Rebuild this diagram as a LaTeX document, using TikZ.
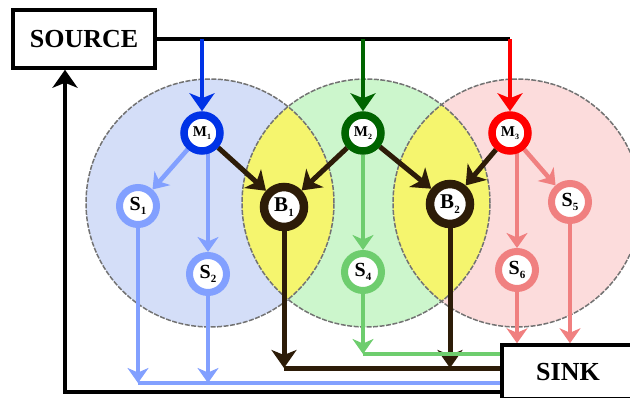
\documentclass[tikz,border=0pt]{standalone}
\usepackage{fontspec}
\setmainfont{Liberation Serif}
\usetikzlibrary{arrows.meta}
\pgfdeclarelayer{back}
\pgfdeclarelayer{mid}
\pgfsetlayers{back,mid,main}
\definecolor{cBlue}{RGB}{0,51,230}
\definecolor{cGreenD}{RGB}{0,100,0}
\definecolor{cRed}{RGB}{255,0,0}
\definecolor{cLBlue}{RGB}{130,160,255}
\definecolor{cLGreen}{RGB}{110,205,110}
\definecolor{cPink}{RGB}{240,128,128}
\definecolor{cBrown}{RGB}{45,28,8}
\definecolor{cBlueFill}{RGB}{212,222,248}
\definecolor{cGreenFill}{RGB}{204,246,204}
\definecolor{cRedFill}{RGB}{252,220,220}
\definecolor{cYellow}{RGB}{245,245,110}
\newcommand\nodelab[4]{{\fontsize{#3}{#3}\selectfont\bfseries #1\raisebox{-0.5ex}{\fontsize{#4}{#4}\selectfont #2}}}
\begin{document}
\begin{tikzpicture}[x=1pt,y=-1pt,
 ring/.style={circle,fill=white,inner sep=0pt},
 mring/.style={ring,minimum size=36pt,line width=7.5pt},
 sring/.style={ring,minimum size=37pt,line width=7pt},
 bring/.style={ring,minimum size=40pt,line width=8.5pt,draw=cBrown},
 tip/.style={-{Stealth[length=18pt,width=25pt,inset=5pt]}},
 smalltip/.style={-{Stealth[length=15pt,width=21pt,inset=4.5pt]}},
 box/.style={draw=black,line width=3.5pt,fill=white,inner sep=0pt,font=\fontsize{26}{26}\selectfont\bfseries},
 bigc/.style={dash pattern=on 5pt off 1.5pt,draw=black!55,line width=1.5pt},
 blk/.style={draw=black,line width=3.5pt},
 lbl/.style={draw=cLBlue,line width=4.5pt},
 lgl/.style={draw=cLGreen,line width=4.5pt},
 pkl/.style={draw=cPink,line width=4.5pt},
 brl/.style={draw=cBrown,line width=5pt}
]
\useasboundingbox (0,0) rectangle (630,397);

\begin{pgfonlayer}{back}
\fill[cBlueFill] (210,203) circle (124pt);
\fill[cGreenFill] (366,203) circle (124pt);
\fill[cRedFill] (517,203) circle (124pt);
\begin{scope}
\clip (210,203) circle (124pt);
\fill[cYellow] (366,203) circle (124pt);
\end{scope}
\begin{scope}
\clip (366,203) circle (124pt);
\fill[cYellow] (517,203) circle (124pt);
\end{scope}
\draw[bigc] (210,203) circle (124pt);
\draw[bigc] (366,203) circle (124pt);
\draw[bigc] (517,203) circle (124pt);
\end{pgfonlayer}

\node[box,minimum width=142pt,minimum height=58pt] (SOURCE) at (84,39) {SOURCE};
\node[box,minimum width=132pt,minimum height=54pt] (SINK) at (568,372) {SINK};

\node[mring,draw=cBlue] (M1) at (202,133) {\nodelab{M}{1}{15}{8}};
\node[mring,draw=cGreenD] (M2) at (363,133) {\nodelab{M}{2}{15}{8}};
\node[mring,draw=cRed] (M3) at (510,133) {\nodelab{M}{3}{15}{8}};
\node[sring,draw=cLBlue] (S1) at (138,206) {\nodelab{S}{1}{20}{11}};
\node[sring,draw=cLBlue] (S2) at (208,274) {\nodelab{S}{2}{20}{11}};
\node[bring] (B1) at (284,207) {\nodelab{B}{1}{21}{11}};
\node[bring] (B2) at (450,204) {\nodelab{B}{2}{21}{11}};
\node[sring,draw=cLGreen] (S4) at (363,272) {\nodelab{S}{4}{20}{11}};
\node[sring,draw=cPink] (S5) at (570,202) {\nodelab{S}{5}{20}{11}};
\node[sring,draw=cPink] (S6) at (517,270) {\nodelab{S}{6}{20}{11}};

\coordinate (gy) at (0,354);
\coordinate (by) at (0,368);
\coordinate (ly) at (0,383);
\coordinate (ret) at (65,392);

\begin{pgfonlayer}{mid}
% from source
\draw[blk] (SOURCE.east) -- (SOURCE.east -| M3);
\draw[tip,draw=cBlue,fill=cBlue,line width=4pt] (SOURCE.east -| M1) -- (M1);
\draw[tip,draw=cGreenD,fill=cGreenD,line width=4pt] (SOURCE.east -| M2) -- (M2);
\draw[tip,draw=cRed,fill=cRed,line width=4pt] (SOURCE.east -| M3) -- (M3);
% return to source
\draw[blk,tip] (SINK.west |- ret) -- (ret) -- (ret |- SOURCE.south);
% inside circles
\draw[lbl,smalltip] (M1) -- (S1);
\draw[lbl,smalltip] (S2 |- M1) -- (S2);
\draw[brl,tip] (M1) -- (B1);
\draw[brl,tip] (M2) -- (B1);
\draw[brl,tip] (M2) -- (B2);
\draw[brl,tip] (M3) -- (B2);
\draw[lgl,smalltip] (M2) -- (S4);
\draw[pkl,smalltip] (M3) -- (S5);
\draw[pkl,smalltip] (S6 |- M3) -- (S6);
% to sink
\draw[lbl,smalltip] (S1) -- (S1 |- ly);
\draw[lbl,smalltip] (S2) -- (S2 |- ly);
\draw[lbl] (S1 |- ly) -- (SINK.west |- ly);
\draw[brl,tip] (B1) -- (B1 |- by);
\draw[brl,tip] (B2) -- (B2 |- by);
\draw[brl] (B1 |- by) -- (SINK.west |- by);
\draw[lgl,smalltip] (S4) -- (S4 |- gy);
\draw[lgl] (S4 |- gy) -- (SINK.west |- gy);
\draw[pkl,smalltip] (S6) -- (S6 |- SINK.north);
\draw[pkl,smalltip] (S5) -- (S5 |- SINK.north);
\end{pgfonlayer}
\end{tikzpicture}
\end{document}
